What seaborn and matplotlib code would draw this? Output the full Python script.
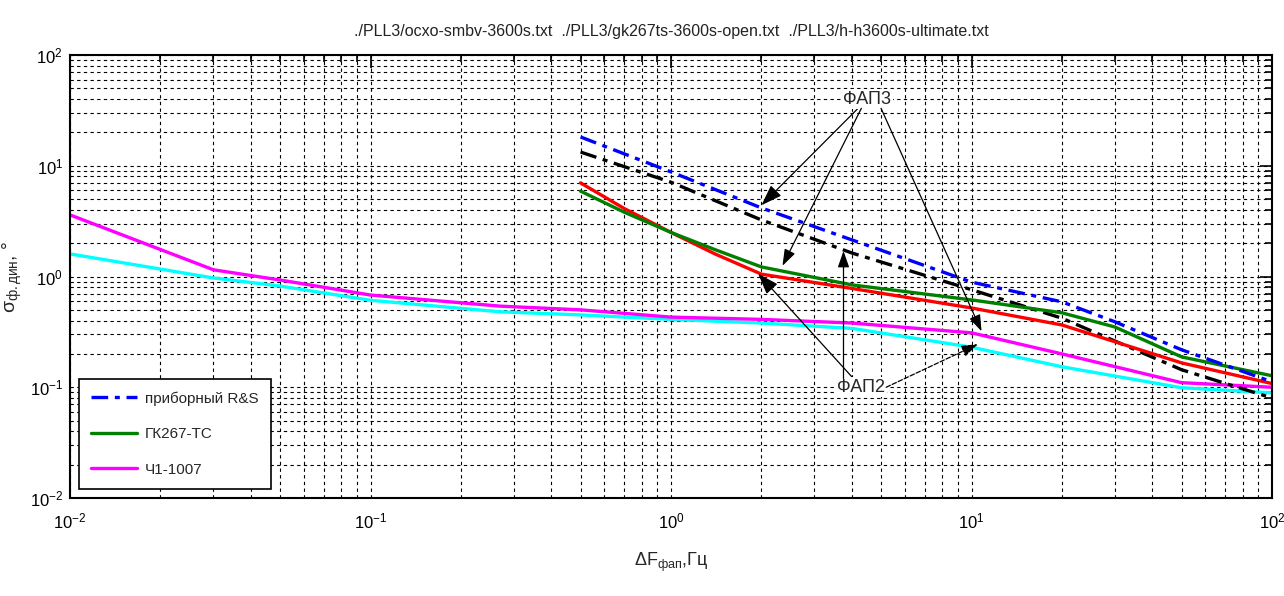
import numpy as np
import pandas as pd
import matplotlib
matplotlib.use("Agg")
import matplotlib.pyplot as plt
import seaborn as sns
from matplotlib.lines import Line2D

# ---- data ----
x_rs = [0.5, 1.0, 2.0, 4.0, 10.0, 20.0, 30.0, 50.0, 100.0]
y_rs = [18.2, 8.8, 4.16, 2.14, 0.89, 0.59, 0.39, 0.218, 0.112]

x_black = [0.5, 1.0, 2.0, 4.0, 10.0, 20.0, 50.0, 100.0]
y_black = [13.3, 7.1, 3.24, 1.63, 0.76, 0.42, 0.144, 0.08]

x_red = [0.5, 0.7, 1.0, 1.4, 2.0, 4.0, 10.0, 20.0, 50.0, 100.0]
y_red = [7.0, 4.1, 2.5, 1.6, 1.05, 0.78, 0.52, 0.365, 0.166, 0.108]

x_gk = [0.5, 0.7, 1.0, 1.4, 2.0, 4.0, 10.0, 20.0, 30.0, 50.0, 100.0]
y_gk = [5.9, 3.8, 2.5, 1.75, 1.22, 0.84, 0.615, 0.47, 0.35, 0.188, 0.127]

x_ch = [0.01, 0.03, 0.05, 0.1, 0.27, 0.5, 1.0, 2.0, 4.0, 10.0, 20.0, 50.0, 100.0]
y_ch = [3.6, 1.15, 0.93, 0.68, 0.54, 0.5, 0.43, 0.41, 0.38, 0.31, 0.2, 0.11, 0.1]

x_cy = [0.01, 0.03, 0.05, 0.1, 0.27, 0.5, 1.0, 2.0, 4.0, 10.0, 20.0, 50.0, 100.0]
y_cy = [1.6, 0.97, 0.82, 0.61, 0.48, 0.45, 0.41, 0.38, 0.34, 0.23, 0.153, 0.099, 0.089]

legend_labels = ["приборный R&S", "ГК267-ТС", "Ч1-1007"]
title_text = "./PLL3/ocxo-smbv-3600s.txt  ./PLL3/gk267ts-3600s-open.txt  ./PLL3/h-h3600s-ultimate.txt"

sns.set_style("white")
plt.rcParams["font.family"] = ["Liberation Sans", "DejaVu Sans"]
plt.rcParams["mathtext.fontset"] = "custom"
plt.rcParams["mathtext.rm"] = "Liberation Sans"
plt.rcParams["mathtext.it"] = "Liberation Sans"

fig = plt.figure(figsize=(12.84, 5.96), dpi=100)
ax = fig.add_axes([70/1284, 1-498/596, (1272-70)/1284, (498-55)/596])

lw = 2.4
dashdot = (0, (5, 2, 1.5, 2))
sns.lineplot(x=x_cy, y=y_cy, ax=ax, color="#00FFFF", lw=lw, label="_nolegend_")
sns.lineplot(x=x_ch, y=y_ch, ax=ax, color="#FF00FF", lw=lw, label="_nolegend_")
sns.lineplot(x=x_black, y=y_black, ax=ax, color="black", lw=lw, linestyle=dashdot, label="_nolegend_")
sns.lineplot(x=x_red, y=y_red, ax=ax, color="#FF0000", lw=lw, label="_nolegend_")
sns.lineplot(x=x_gk, y=y_gk, ax=ax, color="#008000", lw=lw, label="_nolegend_")
sns.lineplot(x=x_rs, y=y_rs, ax=ax, color="#0000FF", lw=lw, linestyle=dashdot, label="_nolegend_")

ax.set_xscale("log")
ax.set_yscale("log")
ax.set_xlim(1e-2, 1e2)
ax.set_ylim(1e-2, 1e2)

ax.grid(True, which="major", color="black", linestyle=(0, (3, 3)), linewidth=0.8)
ax.grid(True, which="minor", color="black", linestyle=(0, (3, 3)), linewidth=0.8)
ax.set_axisbelow(True)

for s in ax.spines.values():
    s.set_color("black")
    s.set_linewidth(1.5)

ax.tick_params(which="both", direction="in", top=True, right=True, colors="black", labelsize=12)
ax.tick_params(which="major", length=9, width=1.2)
ax.tick_params(which="minor", length=5, width=1.2)
ax.xaxis.set_major_locator(matplotlib.ticker.LogLocator(base=10, numticks=10))
ax.yaxis.set_major_locator(matplotlib.ticker.LogLocator(base=10, numticks=10))
ax.xaxis.set_minor_locator(matplotlib.ticker.LogLocator(base=10, subs=np.arange(2, 10), numticks=20))
ax.yaxis.set_minor_locator(matplotlib.ticker.LogLocator(base=10, subs=np.arange(2, 10), numticks=20))
ax.xaxis.set_minor_formatter(matplotlib.ticker.NullFormatter())
ax.yaxis.set_minor_formatter(matplotlib.ticker.NullFormatter())
ax.tick_params(axis="x", pad=10)
ax.tick_params(axis="y", pad=5)

ax.set_title(title_text, fontsize=11.5, pad=14, color="#222222")
ax.set_xlabel(r"$\Delta$F$_{фап}$,Гц", fontsize=13, labelpad=14)
ax.set_ylabel(r"$\sigma_{ф.дин}$, °", fontsize=14, labelpad=4)

handles = [Line2D([], [], color="#0000FF", lw=lw, linestyle=dashdot),
           Line2D([], [], color="#008000", lw=lw),
           Line2D([], [], color="#FF00FF", lw=lw)]
leg = ax.legend(handles, legend_labels, loc="lower left", fontsize=11, frameon=True,
                fancybox=False, framealpha=1, edgecolor="black", handlelength=3.0,
                borderaxespad=0.6, labelspacing=1.4, borderpad=0.8, handletextpad=0.5)
leg.get_frame().set_linewidth(1.2)

arrow = dict(arrowstyle="-|>,head_length=1.0,head_width=0.35", color="black", lw=0.9, shrinkA=0, shrinkB=0)
ax.annotate("ФАП3", xy=(2.0, 4.4), xytext=(4.5, 40), fontsize=13, ha="center", va="center",
            arrowprops=arrow, bbox=dict(fc="white", ec="none", pad=1))
ax.annotate("", xy=(2.35, 1.25), xytext=(4.3, 33), arrowprops=arrow)
ax.annotate("", xy=(10.8, 0.32), xytext=(5.0, 33), arrowprops=arrow)
ax.annotate("ФАП2", xy=(1.95, 1.06), xytext=(4.3, 0.1), fontsize=13, ha="center", va="center",
            arrowprops=arrow, bbox=dict(fc="white", ec="none", pad=1))
ax.annotate("", xy=(3.75, 1.7), xytext=(3.75, 0.12), arrowprops=arrow)
ax.annotate("", xy=(10.5, 0.245), xytext=(5.2, 0.1),
            arrowprops=dict(arrowstyle="-|>,head_length=1.0,head_width=0.35", color="black",
                            lw=0.9, linestyle="--", shrinkA=0, shrinkB=0))

fig.savefig("out.png", dpi=100, facecolor="white")
